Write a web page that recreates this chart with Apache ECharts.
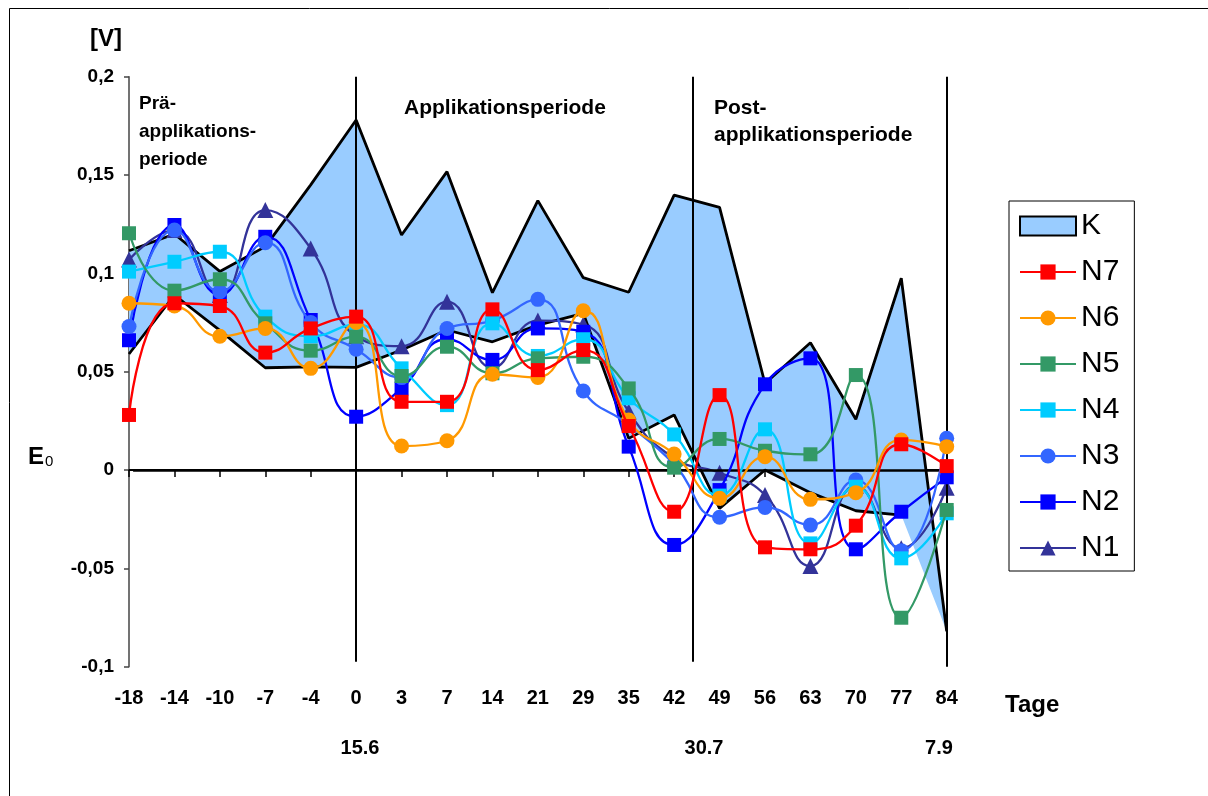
<!DOCTYPE html>
<html>
<head>
<meta charset="utf-8">
<script src="https://cdn.jsdelivr.net/npm/echarts@6/dist/echarts.min.js"></script>
<style>
  html, body { margin: 0; padding: 0; background: #fff; }
  #chart { width: 1208px; height: 796px; }
</style>
</head>
<body>
<div id="chart"></div>
<script>
// Sampling days (Tage) relative to the start of application
const days = ['-18', '-14', '-10', '-7', '-4', '0', '3', '7', '14', '21', '29', '35', '42', '49', '56', '63', '70', '77', '84'];

// Y tick labels (German decimal comma), from -0.1 to 0.2 in steps of 0.05
const yTickLabels = ['-0,1', '-0,05', '0', '0,05', '0,1', '0,15', '0,2'];

// Control band K: upper and lower bound [V]
const kHigh = [0.1115, 0.120, 0.101, 0.1136, 0.145, 0.178, 0.1195, 0.1517, 0.0902, 0.137, 0.0978, 0.0904, 0.1398, 0.1336, 0.044, 0.0647, 0.0258, 0.0975, -0.082];
const kLow  = [0.059, 0.089, 0.071, 0.052, 0.0525, 0.0522, 0.061, 0.0712, 0.0652, 0.0737, 0.0797, 0.0161, 0.028, -0.0195, 0.0, -0.0115, -0.0207, -0.0229, -0.082];

// Variants N1..N7, E0 [V]
const n1 = [0.107, 0.122, 0.089, 0.1322, 0.1127, 0.068, 0.063, 0.0856, 0.052, 0.076, 0.074, 0.0297, 0.006, -0.0014, -0.0127, -0.0488, -0.008, -0.0398, -0.009];
const n2 = [0.066, 0.1246, 0.089, 0.1186, 0.0763, 0.0271, 0.0415, 0.0665, 0.056, 0.072, 0.0703, 0.0119, -0.0381, -0.0102, 0.0436, 0.0568, -0.0403, -0.0212, -0.0037];
const n3 = [0.073, 0.122, 0.0907, 0.1156, 0.075, 0.0614, 0.047, 0.072, 0.076, 0.0868, 0.0402, 0.023, 0.003, -0.024, -0.019, -0.028, -0.0051, -0.041, 0.0161];
const n4 = [0.1009, 0.1059, 0.111, 0.078, 0.068, 0.074, 0.0517, 0.033, 0.0746, 0.058, 0.0665, 0.0365, 0.0181, -0.013, 0.0207, -0.0373, -0.0085, -0.0449, -0.022];
const n5 = [0.1204, 0.0912, 0.097, 0.0746, 0.0607, 0.0678, 0.0478, 0.0627, 0.0492, 0.0568, 0.0576, 0.0415, 0.0012, 0.0158, 0.0098, 0.008, 0.0483, -0.0751, -0.0203];
const n6 = [0.0848, 0.0834, 0.068, 0.072, 0.0517, 0.075, 0.0122, 0.0149, 0.0487, 0.0471, 0.081, 0.0254, 0.0081, -0.0144, 0.0068, -0.0149, -0.0115, 0.0153, 0.0119];
const n7 = [0.028, 0.0848, 0.0834, 0.0597, 0.072, 0.078, 0.0347, 0.0347, 0.0817, 0.0508, 0.061, 0.0224, -0.0212, 0.0381, -0.0393, -0.0403, -0.0283, 0.0131, 0.002];

// Period boundaries, as positions along the day axis (category index)
const periodDividers = [5, 12.4, 18];
// Period titles and amounts applied per period
const periodTitles = ['Prä-\napplikations-\nperiode', 'Applikationsperiode', 'Post-\napplikationsperiode'];
const periodAmounts = ['15.6', '30.7', '7.9'];

const FONT = '"Liberation Sans", Arial, Helvetica, sans-serif';

const variants = [
  { name: 'N1', data: n1, color: '#333399', symbol: 'triangle', size: 16 },
  { name: 'N2', data: n2, color: '#0000FF', symbol: 'rect', size: 14 },
  { name: 'N3', data: n3, color: '#3366FF', symbol: 'circle', size: 15 },
  { name: 'N4', data: n4, color: '#00CCFF', symbol: 'rect', size: 14 },
  { name: 'N5', data: n5, color: '#339966', symbol: 'rect', size: 14 },
  { name: 'N6', data: n6, color: '#FF9900', symbol: 'circle', size: 15 },
  { name: 'N7', data: n7, color: '#FF0000', symbol: 'rect', size: 14 }
];

const chart = echarts.init(document.getElementById('chart'), null, { renderer: 'canvas' });

const series = [
  // K band: invisible base + filled difference
  {
    name: 'K-Basis', type: 'line', data: kLow, stack: 'K', stackStrategy: 'all',
    symbol: 'none', lineStyle: { opacity: 0 }, silent: true, z: 1
  },
  {
    name: 'K', type: 'line', data: kHigh.map((v, i) => v - kLow[i]), stack: 'K', stackStrategy: 'all',
    symbol: 'none', lineStyle: { opacity: 0 }, areaStyle: { color: '#99CCFF', opacity: 1 },
    itemStyle: { color: '#99CCFF' }, silent: true, z: 1
  },
  {
    name: 'K max', type: 'line', data: kHigh, symbol: 'none', silent: true, z: 2,
    lineStyle: { color: '#000', width: 2.8 }
  },
  {
    name: 'K min', type: 'line', data: kLow.slice(0, -1), symbol: 'none', silent: true, z: 2,
    lineStyle: { color: '#000', width: 2.8 }
  },
  // Period dividers and zero line
  {
    name: 'Perioden', type: 'line', xAxisIndex: 1, data: [[0, 0]], symbol: 'none', silent: true, z: 3,
    lineStyle: { opacity: 0 },
    markLine: {
      silent: true, symbol: ['none', 'none'], label: { show: false }, animation: false,
      lineStyle: { color: '#000', width: 2, type: 'solid' },
      data: periodDividers.map(x => [{ coord: [x, 0.2] }, { coord: [x, x === 18 ? -0.1 : -0.0975] }])
        .concat([[{ coord: [0.09, 0], lineStyle: { width: 2.5 } }, { coord: [18, 0] }]])
    }
  }
].concat(variants.map((s, i) => ({
  name: s.name, type: 'line', data: s.data, smooth: 0.5,
  symbol: s.symbol, symbolSize: s.size, showAllSymbol: true,
  lineStyle: { color: s.color, width: 2.3 },
  itemStyle: { color: s.color },
  z: 4 + i
})));

chart.setOption({
  animation: false,
  backgroundColor: '#fff',
  textStyle: { fontFamily: FONT },
  grid: { left: 129, right: 261.3, top: 76.7, bottom: 129.3, containLabel: false },
  xAxis: [
    {
      type: 'category', data: days, boundaryGap: false,
      axisLine: { lineStyle: { color: '#000', width: 2 } },
      axisTick: { show: true, length: 7, inside: false, alignWithLabel: true, interval: 0, lineStyle: { color: '#000', width: 1.5 } },
      axisLabel: { interval: 0, margin: 22, fontFamily: FONT, fontWeight: 'bold', fontSize: 20, color: '#000' },
      splitLine: { show: false }
    },
    { type: 'value', min: 0, max: 18, show: false }
  ],
  yAxis: {
    type: 'value', min: -0.1, max: 0.2, interval: 0.05,
    axisLine: { show: true, lineStyle: { color: '#444', width: 1.5 } },
    axisTick: { show: true, length: 5, inside: false, lineStyle: { color: '#444', width: 1.5 } },
    axisLabel: {
      margin: 15, fontFamily: FONT, fontWeight: 'bold', fontSize: 19, color: '#000',
      formatter: v => yTickLabels[Math.round((v + 0.1) / 0.05)]
    },
    splitLine: { show: false }
  },
  legend: {
    orient: 'vertical', left: 1009, top: 201,
    padding: [10, 15, 8, 10], itemGap: 16, itemWidth: 56, itemHeight: 19,
    backgroundColor: '#fff', borderColor: '#000', borderWidth: 1,
    textStyle: { fontFamily: FONT, fontSize: 30, color: '#000', lineHeight: 30 },
    selectedMode: false,
    data: [
      { name: 'K', icon: 'rect', itemStyle: { color: '#99CCFF', borderColor: '#000', borderWidth: 2 } },
      'N7', 'N6', 'N5', 'N4', 'N3', 'N2', 'N1'
    ]
  },
  graphic: [
    { type: 'rect', silent: true, shape: { x: 9.5, y: 8.5, width: 1300, height: 900 }, style: { fill: 'none', stroke: '#000', lineWidth: 1 } },
    { type: 'text', x: 90, y: 39, style: { text: '[V]', font: 'bold 24px ' + FONT, fill: '#000', verticalAlign: 'middle' } },
    { type: 'text', x: 28, y: 457, style: { text: 'E', font: 'bold 24px ' + FONT, fill: '#000', verticalAlign: 'middle' } },
    { type: 'text', x: 45, y: 462, style: { text: '0', font: '15px ' + FONT, fill: '#000', verticalAlign: 'middle' } },
    { type: 'text', x: 1005, y: 705, style: { text: 'Tage', font: 'bold 24px ' + FONT, fill: '#000', verticalAlign: 'middle' } },
    { type: 'text', x: 139, y: 90, style: { text: periodTitles[0], font: 'bold 19px ' + FONT, lineHeight: 28, fill: '#000', verticalAlign: 'top' } },
    { type: 'text', x: 404, y: 95, style: { text: periodTitles[1], font: 'bold 21px ' + FONT, lineHeight: 27, fill: '#000', verticalAlign: 'top' } },
    { type: 'text', x: 714, y: 94, style: { text: periodTitles[2], font: 'bold 21px ' + FONT, lineHeight: 27.5, fill: '#000', verticalAlign: 'top' } },
    { type: 'text', x: 360, y: 748, style: { text: periodAmounts[0], font: 'bold 20px ' + FONT, fill: '#000', align: 'center', verticalAlign: 'middle' } },
    { type: 'text', x: 704, y: 748, style: { text: periodAmounts[1], font: 'bold 20px ' + FONT, fill: '#000', align: 'center', verticalAlign: 'middle' } },
    { type: 'text', x: 939, y: 748, style: { text: periodAmounts[2], font: 'bold 20px ' + FONT, fill: '#000', align: 'center', verticalAlign: 'middle' } }
  ],
  series: series
});
</script>
</body>
</html>
